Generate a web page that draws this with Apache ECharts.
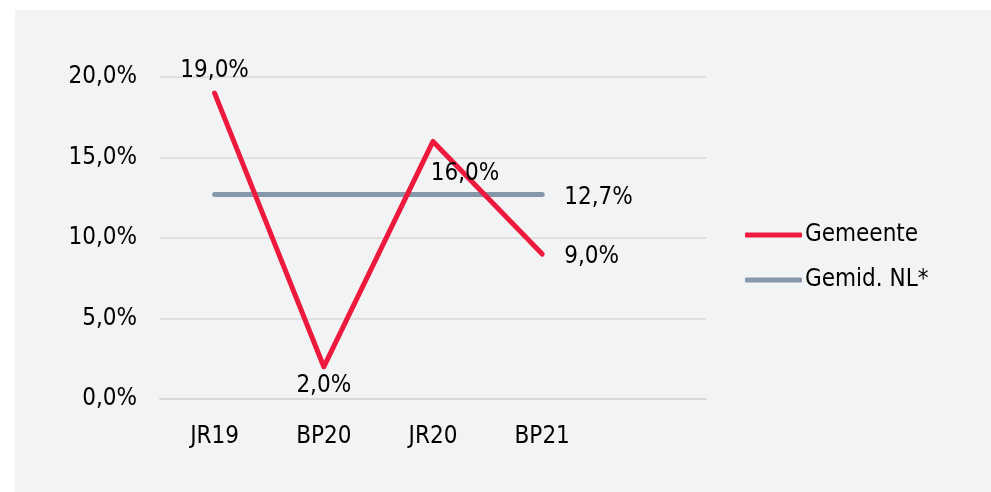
<!DOCTYPE html>
<html>
<head>
<meta charset="utf-8">
<script src="https://cdn.jsdelivr.net/npm/echarts@6/dist/echarts.min.js"></script>
<style>
  html, body { margin: 0; padding: 0; background: #fff; }
  #chart { width: 991px; height: 492px; }
</style>
</head>
<body>
<div id="chart"></div>
<script>
// categorieen (laatste is leeg, ruimte zoals in het origineel)
var categories = ['JR19', 'BP20', 'JR20', 'BP21', '']
var gemeente = [19.0, 2.0, 16.0, 9.0, null]
var gemiddeldNL = [12.7, 12.7, 12.7, 12.7, null]
var yTicks = [0, 5, 10, 15, 20]

var FONT = 'DejaVu Sans Condensed'

function pct (v, d) {
	return v.toFixed(d).replace('.', ',') + '%'
}

// label positions per point of the Gemeente line
var gemeenteLabels = [
	{ position: 'top', distance: 10 },
	{ position: 'bottom', distance: 7 },
	{ position: 'bottom', distance: 20, offset: [32, 0] },
	{ position: 'right', distance: 22, offset: [0, 3] }
]

var myChart = echarts.init(document.getElementById('chart'))

myChart.setOption({
	animation: false,
	textStyle: { fontFamily: FONT },
	graphic: [{
		type: 'rect',
		z: -10,
		shape: { x: 15, y: 10, width: 976, height: 482 },
		style: { fill: '#f2f3f5' }
	}],
	grid: { left: 160, right: 285, top: 77, bottom: 93 },
	legend: {
		orient: 'vertical',
		left: 740,
		top: 218,
		itemWidth: 57,
		itemHeight: 5,
		itemGap: 21,
		icon: 'roundRect',
		textStyle: { fontFamily: FONT, fontSize: 24, color: '#000', padding: [0, 0, 0, -2] },
		data: ['Gemeente', 'Gemid. NL*']
	},
	xAxis: {
		type: 'category',
		data: categories,
		boundaryGap: true,
		axisTick: { show: false },
		axisLine: { lineStyle: { color: '#d9d9d9', width: 2 } },
		axisLabel: { fontFamily: FONT, fontSize: 24, color: '#000', margin: 26 }
	},
	yAxis: {
		type: 'value',
		min: yTicks[0],
		max: yTicks[yTicks.length - 1],
		interval: 5,
		axisLine: { show: false },
		axisTick: { show: false },
		splitLine: { lineStyle: { color: '#d9d9d9', width: 1.5 } },
		axisLabel: {
			fontFamily: FONT, fontSize: 24, color: '#000', margin: 23,
			formatter: function (v) { return pct(v, 1) }
		}
	},
	series: [
		{
			name: 'Gemeente',
			type: 'line',
			z: 3,
			symbol: 'circle',
			symbolSize: 0,
			showSymbol: true,
			itemStyle: { color: '#ee1a3d' },
			lineStyle: { color: '#ee1a3d', width: 5, cap: 'round', join: 'round' },
			data: gemeente.map(function (v, i) {
				if (v === null) return v
				return {
					value: v,
					label: Object.assign({
						show: true,
						fontFamily: FONT,
						fontSize: 24,
						color: '#000',
						formatter: function (p) { return pct(p.value, 1) }
					}, gemeenteLabels[i])
				}
			})
		},
		{
			name: 'Gemid. NL*',
			type: 'line',
			z: 2,
			symbol: 'circle',
			symbolSize: 0,
			showSymbol: true,
			itemStyle: { color: '#8697aa' },
			lineStyle: { color: '#8697aa', width: 5, cap: 'round' },
			data: gemiddeldNL.map(function (v, i) {
				if (v === null || i !== 3) return v
				return {
					value: v,
					label: {
						show: true,
						position: 'right',
						distance: 22,
						offset: [0, 3],
						fontFamily: FONT,
						fontSize: 24,
						color: '#000',
						formatter: function (p) { return pct(p.value, 1) }
					}
				}
			})
		}
	]
})
</script>
</body>
</html>
